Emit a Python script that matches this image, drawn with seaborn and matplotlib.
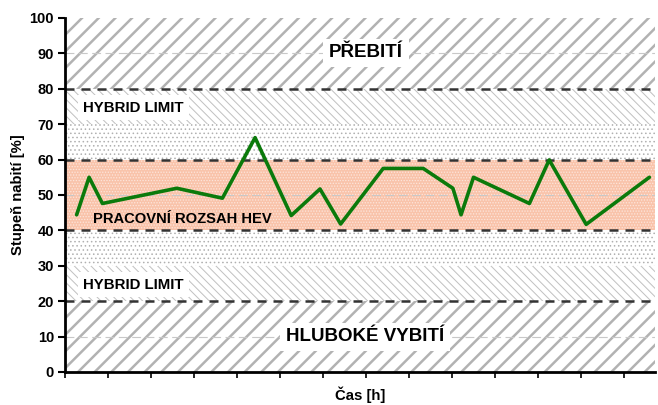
import numpy as np
import pandas as pd
import matplotlib
matplotlib.use("Agg")
import matplotlib.pyplot as plt
import seaborn as sns

# -----------------------------
# Data
# -----------------------------
time_h = [0.27, 0.56, 0.87, 2.60, 3.66, 4.42, 5.26, 5.93, 6.41, 7.40,
          8.33, 9.02, 9.21, 9.50, 10.80, 11.26, 12.12, 13.59]
soc = [44.4, 55.0, 47.6, 51.9, 49.1, 66.2, 44.2, 51.7, 41.8, 57.5,
       57.5, 51.9, 44.4, 55.0, 47.6, 59.9, 41.7, 55.0]

band_low = [0, 20, 30, 40, 60, 70, 80]
band_high = [20, 30, 40, 60, 70, 80, 100]
band_hatch = ["//", "\\\\\\\\", "....", "......", "....", "\\\\\\\\", "//"]
band_face = ["white", "white", "white", "#f9c3aa", "white", "white", "white"]
band_edge = ["#b2b2b2", "#c0c0c0", "#b0b0b0", "#fde6dc", "#b0b0b0", "#c0c0c0", "#b2b2b2"]
band_hlw = [1.8, 0.7, 0.6, 0.6, 0.6, 0.7, 1.8]

limit_lines = [20, 40, 60, 80]
grid_lines = [10, 50, 90]

df = pd.DataFrame({"t": time_h, "soc": soc})

# -----------------------------
# Plot
# -----------------------------
sns.set_style("ticks")
plt.rcParams["font.family"] = ["Liberation Sans", "DejaVu Sans"]
plt.rcParams["hatch.linewidth"] = 1.0
plt.rcParams["text.color"] = "black"
plt.rcParams["axes.labelcolor"] = "black"
plt.rcParams["xtick.color"] = "black"
plt.rcParams["ytick.color"] = "black"
plt.rcParams["axes.edgecolor"] = "black"

fig = plt.figure(figsize=(6.58, 4.05), dpi=100)
ax = fig.add_axes([0.0988, 0.0815, 0.8966, 0.8741])

for lo, hi, h, fc, ec, hlw in zip(band_low, band_high, band_hatch, band_face, band_edge, band_hlw):
    p = ax.axhspan(lo, hi, facecolor=fc, edgecolor=ec, hatch=h, linewidth=0, zorder=0)
    if hasattr(p, "set_hatch_linewidth"):
        p.set_hatch_linewidth(hlw)

for g in grid_lines:
    ax.axhline(g, color="#c8c8c8", lw=0.8, ls=(0, (8, 4)), zorder=1)

for y in limit_lines:
    ax.axhline(y, color="#333333", lw=1.8, ls=(0, (3.6, 2.8)), zorder=2)

sns.lineplot(data=df, x="t", y="soc", color="#0b7a0b", lw=2.6, ax=ax, zorder=3)

box = dict(facecolor="white", edgecolor="none", pad=4)
ax.text(7.0, 90.2, "PŘEBITÍ", fontsize=13.5, fontweight="bold", ha="center", va="center", bbox=box, zorder=4)
ax.text(0.42, 74.7, "HYBRID LIMIT", fontsize=10.8, fontweight="bold", ha="left", va="center", bbox=box, zorder=4)
ax.text(0.42, 24.7, "HYBRID LIMIT", fontsize=10.8, fontweight="bold", ha="left", va="center", bbox=box, zorder=4)
ax.text(0.65, 43.1, "PRACOVNÍ ROZSAH HEV", fontsize=10.6, fontweight="bold", ha="left", va="center", zorder=4)
ax.text(6.98, 9.9, "HLUBOKÉ VYBITÍ", fontsize=13.5, fontweight="bold", ha="center", va="center", bbox=box, zorder=4)

ax.set_xlim(0, 13.72)
ax.set_ylim(0, 100)
ax.set_xticks(np.arange(0, 14))
ax.set_xticklabels([])
ax.set_yticks(np.arange(0, 101, 10))
ax.tick_params(axis="y", labelsize=10.5, width=1.5, length=5, pad=3)
ax.tick_params(axis="x", width=1.2, length=4)
for lbl in ax.get_yticklabels():
    lbl.set_fontweight("bold")

ax.set_xlabel("Čas [h]", fontsize=10.7, fontweight="bold", labelpad=3)
ax.set_ylabel("Stupeň nabití [%]", fontsize=10.7, fontweight="bold", labelpad=3)

sns.despine(ax=ax, top=True, right=True)
ax.spines["left"].set_linewidth(2)
ax.spines["bottom"].set_linewidth(2)

fig.savefig("out.png", dpi=100)
